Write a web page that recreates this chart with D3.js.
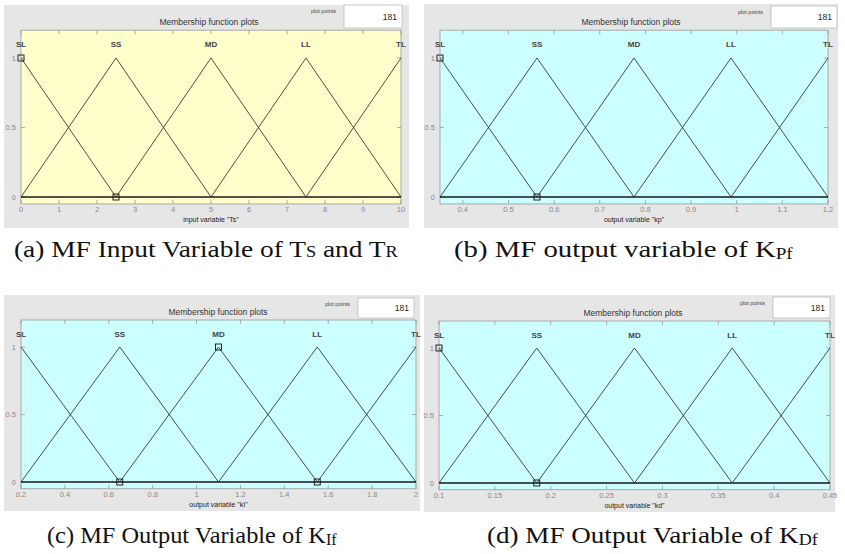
<!DOCTYPE html>
<html>
<head>
<meta charset="UTF-8">
<title>Membership function plots</title>
<script src="https://d3js.org/d3.v7.min.js"></script>
<style>
  body { margin: 0; background: #fff; }
  text { font-family: "Liberation Sans", Arial, sans-serif; }
  .caption { font-family: "Liberation Serif", "Times New Roman", serif; fill: #111; }
</style>
</head>
<body>
<svg id="fig" width="845" height="554"></svg>
<script>
// MF names, same in all four plots
const mfNames = ["SL", "SS", "MD", "LL", "TL"];

// triangle params [a, b, c]
const tsMF = [[-2.5, 0, 2.5], [0, 2.5, 5], [2.5, 5, 7.5], [5, 7.5, 10], [7.5, 10, 12.5]];
const kpMF = [[0.1375, 0.35, 0.5625], [0.35, 0.5625, 0.775], [0.5625, 0.775, 0.9875], [0.775, 0.9875, 1.2], [0.9875, 1.2, 1.4125]];
const kiMF = [[-0.25, 0.2, 0.65], [0.2, 0.65, 1.1], [0.65, 1.1, 1.55], [1.1, 1.55, 2], [1.55, 2, 2.45]];
const kdMF = [[0.0125, 0.1, 0.1875], [0.1, 0.1875, 0.275], [0.1875, 0.275, 0.3625], [0.275, 0.3625, 0.45], [0.3625, 0.45, 0.5375]];

// variable ranges
const tsRange = [0, 10];
const kpRange = [0.35, 1.2];
const kiRange = [0.2, 2];
const kdRange = [0.1, 0.45];

// x ticks
const tsTicks = [0, 1, 2, 3, 4, 5, 6, 7, 8, 9, 10];
const kpTicks = [0.4, 0.5, 0.6, 0.7, 0.8, 0.9, 1, 1.1, 1.2];
const kiTicks = [0.2, 0.4, 0.6, 0.8, 1, 1.2, 1.4, 1.6, 1.8, 2];
const kdTicks = [0.1, 0.15, 0.2, 0.25, 0.3, 0.35, 0.4, 0.45];
const yTicks = [0, 0.5, 1];

const varLabels = ['input variable "Ts"', 'output variable "kp"', 'output variable "kI"', 'output variable "kd"'];
const selectedMF = [0, 0, 2, 0];
const plotPoints = [181, 181, 181, 181];
const bgColors = ["#ffffcc", "#ccffff", "#ccffff", "#ccffff"];

// captions: [text, kind] (0 normal, 1 small caps-like, 2 subscript)
const captions = [
  [["(a) MF Input Variable of T", 0], ["S", 1], [" and T", 0], ["R", 1]],
  [["(b) MF output variable of K", 0], ["Pf", 2]],
  [["(c) MF Output Variable of K", 0], ["If", 2]],
  [["(d) MF Output Variable of K", 0], ["Df", 2]]
];

// panel layout (pixels); cw = caption width in the picture
const layout = [
  { gx: 4,   gy: 5,   gw: 405, gh: 223, left: 21,  right: 401, y0: 197, y1: 58,  tx: 209, ty: 25,  bx: 344, by: 5,   bw: 58, bh: 23, cx: 14,  cy: 257, cw: 384 },
  { gx: 424, gy: 4,   gw: 414, gh: 224, left: 440, right: 828, y0: 197, y1: 58,  tx: 631, ty: 25,  bx: 771, by: 6,   bw: 66, bh: 22, cx: 454, cy: 257, cw: 339 },
  { gx: 4,   gy: 295, gw: 416, gh: 216, left: 21,  right: 416, y0: 482, y1: 347, tx: 218, ty: 315, bx: 358, by: 298, bw: 56, bh: 20, cx: 47,  cy: 543, cw: 290 },
  { gx: 424, gy: 295, gw: 411, gh: 217, left: 439, right: 830, y0: 483, y1: 348, tx: 633, ty: 316, bx: 773, by: 297, bw: 57, bh: 21, cx: 487, cy: 543, cw: 331 }
];

const mfSets = [tsMF, kpMF, kiMF, kdMF];
const ranges = [tsRange, kpRange, kiRange, kdRange];
const tickSets = [tsTicks, kpTicks, kiTicks, kdTicks];

const svg = d3.select("#fig");
svg.append("rect").attr("width", 845).attr("height", 554).attr("fill", "#fff");

function trimf(x, p) {
  const [a, b, c] = p;
  if (x <= a || x >= c) return 0;
  return x <= b ? (x - a) / (b - a) : (c - x) / (c - b);
}

layout.forEach((L, i) => {
  const g = svg.append("g");
  const dom = ranges[i];
  const x = d3.scaleLinear().domain(dom).range([L.left, L.right]);
  const y = d3.scaleLinear().domain([0, 1]).range([L.y0, L.y1]);
  const top = y(1.2), bottom = y(-0.05);

  // gray figure panel
  g.append("rect").attr("x", L.gx).attr("y", L.gy).attr("width", L.gw).attr("height", L.gh)
    .attr("fill", "#e6e6e6");

  // title + plot points box
  g.append("text").attr("x", L.tx).attr("y", L.ty).attr("text-anchor", "middle")
    .attr("font-size", 8.5).attr("fill", "#333").text("Membership function plots");
  g.append("rect").attr("x", L.bx).attr("y", L.by).attr("width", L.bw).attr("height", L.bh)
    .attr("fill", "#fff").attr("stroke", "#bbb").attr("stroke-width", 0.8);
  g.append("text").attr("x", L.bx - 8).attr("y", L.by + 8).attr("text-anchor", "end")
    .attr("font-size", 5.5).attr("fill", "#444").text("plot points");
  g.append("text").attr("x", L.bx + L.bw - 5).attr("y", L.by + L.bh / 2 + 3).attr("text-anchor", "end")
    .attr("font-size", 8.5).attr("fill", "#222").text(plotPoints[i]);

  // plot area
  g.append("rect").attr("x", L.left).attr("y", top).attr("width", L.right - L.left).attr("height", bottom - top)
    .attr("fill", bgColors[i]).attr("stroke", "#999").attr("stroke-width", 0.8);

  // ticks inside the box
  const tickG = g.append("g").attr("stroke", "#999").attr("stroke-width", 0.8);
  tickSets[i].forEach(t => {
    tickG.append("line").attr("x1", x(t)).attr("x2", x(t)).attr("y1", bottom).attr("y2", bottom - 4);
    tickG.append("line").attr("x1", x(t)).attr("x2", x(t)).attr("y1", top).attr("y2", top + 4);
  });
  yTicks.forEach(t => {
    tickG.append("line").attr("x1", L.left).attr("x2", L.left + 4).attr("y1", y(t)).attr("y2", y(t));
    tickG.append("line").attr("x1", L.right).attr("x2", L.right - 4).attr("y1", y(t)).attr("y2", y(t));
  });

  // tick labels
  g.selectAll("text.xt").data(tickSets[i]).join("text").attr("class", "xt")
    .attr("x", d => x(d)).attr("y", L.y0 + 15).attr("text-anchor", "middle")
    .attr("font-size", 7.5).attr("fill", "#888").text(d => d);
  g.selectAll("text.yt").data(yTicks).join("text").attr("class", "yt")
    .attr("x", L.left - 5).attr("y", d => y(d) + 2.5).attr("text-anchor", "end")
    .attr("font-size", 7.5).attr("fill", "#888").text(d => d);
  g.append("text").attr("x", (L.left + L.right) / 2).attr("y", L.y0 + 25).attr("text-anchor", "middle")
    .attr("font-size", 7).attr("fill", "#222").text(varLabels[i]);

  // MF curves
  const line = d3.line().x(d => x(d[0])).y(d => y(d[1]));
  mfSets[i].forEach(p => {
    const xs = [dom[0], ...p, dom[1]].filter(v => v >= dom[0] && v <= dom[1]).sort((a, b) => a - b);
    g.append("path").attr("d", line(xs.map(v => [v, trimf(v, p)])))
      .attr("fill", "none").attr("stroke", "#222").attr("stroke-width", 0.8);
  });

  // MF names above peaks
  g.selectAll("text.mf").data(mfSets[i]).join("text").attr("class", "mf")
    .attr("x", d => x(d[1])).attr("y", y(1.1) + 3).attr("text-anchor", "middle")
    .attr("font-size", 8).attr("font-weight", "bold").attr("fill", "#444")
    .text((d, k) => mfNames[k]);

  // square markers on selected MF vertices
  const sel = mfSets[i][selectedMF[i]];
  const verts = [[sel[0], 0], [sel[1], 1], [sel[2], 0]].filter(v => v[0] >= dom[0] && v[0] <= dom[1]);
  g.selectAll("rect.mk").data(verts).join("rect").attr("class", "mk")
    .attr("x", d => x(d[0]) - 3).attr("y", d => y(d[1]) - 3).attr("width", 6).attr("height", 6)
    .attr("fill", "none").attr("stroke", "#111").attr("stroke-width", 0.9);

  // caption, stretched horizontally to the width seen in the picture
  const cap = svg.append("text").attr("class", "caption").attr("x", 0).attr("y", 0).attr("font-size", 24);
  captions[i].forEach(([s, kind]) => {
    const ts = cap.append("tspan").text(s);
    if (kind === 1) ts.attr("font-size", 16);
    if (kind === 2) ts.attr("font-size", 16).attr("dy", 2);
  });
  const w = cap.node().getComputedTextLength();
  cap.attr("transform", `translate(${L.cx},${L.cy}) scale(${L.cw / w},1)`);
});
</script>
</body>
</html>
